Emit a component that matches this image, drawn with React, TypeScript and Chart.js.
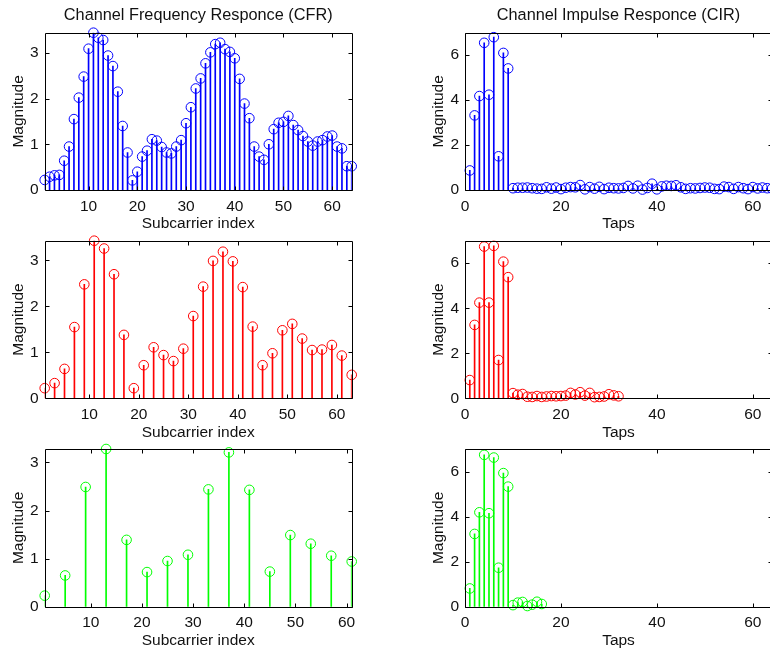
import React, { useEffect, useRef } from 'react';
import { Chart, registerables } from 'chart.js';

Chart.register(...registerables);

// ---------------- DATA ----------------
// Channel Frequency Response, 64 subcarriers (blue)
const cfr64Values = [
  0.22, 0.29, 0.32, 0.33, 0.64, 0.95, 1.55, 2.02, 2.48, 3.09, 3.44, 3.33, 3.28, 2.94, 2.71, 2.15,
  1.40, 0.82, 0.21, 0.40, 0.73, 0.86, 1.11, 1.08, 0.94, 0.82, 0.80, 0.95, 1.09, 1.46, 1.81, 2.22,
  2.44, 2.77, 3.01, 3.19, 3.22, 3.08, 3.02, 2.88, 2.43, 1.89, 1.57, 0.95, 0.73, 0.66, 1.00, 1.33,
  1.47, 1.49, 1.62, 1.42, 1.31, 1.18, 1.06, 0.97, 1.06, 1.09, 1.17, 1.19, 0.95, 0.91, 0.52, 0.52,
];
const cfr64Index = [
  1, 2, 3, 4, 5, 6, 7, 8, 9, 10, 11, 12, 13, 14, 15, 16, 17, 18, 19, 20, 21, 22, 23, 24, 25, 26, 27, 28, 29, 30, 31, 32,
  33, 34, 35, 36, 37, 38, 39, 40, 41, 42, 43, 44, 45, 46, 47, 48, 49, 50, 51, 52, 53, 54, 55, 56, 57, 58, 59, 60, 61, 62, 63, 64,
];

// 32 subcarriers (red)
const cfr32Index = [1, 3, 5, 7, 9, 11, 13, 15, 17, 19, 21, 23, 25, 27, 29, 31, 33, 35, 37, 39, 41, 43, 45, 47, 49, 51, 53, 55, 57, 59, 61, 63];
const cfr32Values = [
  0.22, 0.33, 0.64, 1.55, 2.48, 3.43, 3.26, 2.70, 1.38, 0.22, 0.72, 1.11, 0.94, 0.81, 1.08, 1.79,
  2.43, 2.99, 3.19, 2.98, 2.42, 1.56, 0.72, 0.98, 1.48, 1.62, 1.30, 1.05, 1.06, 1.16, 0.93, 0.51,
];

// 16 subcarriers (green)
const cfr16Index = [1, 5, 9, 13, 17, 21, 25, 29, 33, 37, 41, 45, 49, 53, 57, 61];
const cfr16Values = [0.23, 0.65, 2.49, 3.28, 1.39, 0.72, 0.95, 1.08, 2.44, 3.21, 2.43, 0.73, 1.49, 1.31, 1.06, 0.94];

// Channel Impulse Response
const cir64Values = [
  0.87, 3.32, 4.18, 6.55, 4.24, 6.80, 1.50, 6.10, 5.41, 0.08, 0.10, 0.10, 0.11, 0.08, 0.06, 0.05,
  0.12, 0.06, 0.11, 0.04, 0.10, 0.13, 0.12, 0.22, 0.03, 0.13, 0.06, 0.14, 0.04, 0.10, 0.08, 0.07,
  0.09, 0.18, 0.07, 0.19, 0.02, 0.09, 0.28, 0.03, 0.16, 0.19, 0.18, 0.21, 0.12, 0.05, 0.08, 0.07,
  0.09, 0.11, 0.10, 0.05, 0.04, 0.15, 0.13, 0.05, 0.13, 0.08, 0.04, 0.13, 0.07, 0.11, 0.08, 0.06,
];
const cir32Values = [
  0.81, 3.26, 4.25, 6.74, 4.25, 6.77, 1.70, 6.07, 5.38, 0.23, 0.16, 0.19, 0.07, 0.06, 0.10, 0.06,
  0.08, 0.10, 0.09, 0.10, 0.12, 0.24, 0.17, 0.27, 0.12, 0.24, 0.05, 0.06, 0.08, 0.18, 0.13, 0.09,
];
const cir16Values = [0.81, 3.23, 4.19, 6.74, 4.15, 6.62, 1.73, 5.93, 5.33, 0.07, 0.18, 0.21, 0.03, 0.09, 0.22, 0.12];

const cfrTicksX = [10, 20, 30, 40, 50, 60];
const cfrTicksY = [0, 1, 2, 3];
const cirTicksX = [0, 20, 40, 60];
const cirTicksY = [0, 2, 4, 6];

const titleCFR = 'Channel Frequency Responce (CFR)';
const titleCIR = 'Channel Impulse Responce (CIR)';
const labelCFR = 'Subcarrier index';
const labelCIR = 'Taps';
const labelY = 'Magnitude';

// ---------------- LAYOUT ----------------
const CW = 790;
const CH = 649;
const WY = 40;
const HX = 45;
const FONT = "'Liberation Sans', Arial, Helvetica, sans-serif";
const TXT = '#111';

const rows = [
  { t: 32.7, b: 190 },
  { t: 240.7, b: 398.3 },
  { t: 449, b: 606.7 },
];
const cols = [
  { l: 44.7, r: 351.7 },
  { l: 465, r: 772 },
];

const boxPlugin = {
  id: 'matlabBox',
  afterDatasetsDraw(chart: any) {
    const { ctx, chartArea: a, scales } = chart;
    const L = Math.round(a.left) + 0.5;
    const R = Math.round(a.right) + 0.5;
    const T = Math.round(a.top) + 0.5;
    const B = Math.round(a.bottom) + 0.5;
    const tl = 4;
    ctx.save();
    ctx.strokeStyle = '#000';
    ctx.lineWidth = 1;
    ctx.beginPath();
    ctx.rect(L, T, R - L, B - T);
    scales.x.ticks.forEach((t: any) => {
      const p = Math.round(scales.x.getPixelForValue(t.value)) + 0.5;
      ctx.moveTo(p, B);
      ctx.lineTo(p, B - tl);
      ctx.moveTo(p, T);
      ctx.lineTo(p, T + tl);
    });
    scales.y.ticks.forEach((t: any) => {
      const p = Math.round(scales.y.getPixelForValue(t.value)) + 0.5;
      ctx.moveTo(L, p);
      ctx.lineTo(L + tl, p);
      ctx.moveTo(R, p);
      ctx.lineTo(R - tl, p);
    });
    ctx.stroke();
    ctx.restore();
  },
};

type Panel = {
  row: number;
  col: number;
  xs: number[];
  ys: number[];
  color: string;
  xMin: number;
  xMax: number;
  yMax: number;
  xTicks: number[];
  yTicks: number[];
  xLabel: string;
  title?: string;
};

const panels: Panel[] = [
  { row: 0, col: 0, xs: cfr64Index, ys: cfr64Values, color: '#0000ff', xMin: 1, xMax: 64, yMax: Math.max(...cfr64Values), xTicks: cfrTicksX, yTicks: cfrTicksY, xLabel: labelCFR, title: titleCFR },
  { row: 0, col: 1, xs: cfr64Index, ys: cir64Values, color: '#0000ff', xMin: 0, xMax: 64, yMax: 7, xTicks: cirTicksX, yTicks: cirTicksY, xLabel: labelCIR, title: titleCIR },
  { row: 1, col: 0, xs: cfr32Index, ys: cfr32Values, color: '#ff0000', xMin: 1, xMax: 63, yMax: Math.max(...cfr32Values), xTicks: cfrTicksX, yTicks: cfrTicksY, xLabel: labelCFR },
  { row: 1, col: 1, xs: cfr64Index, ys: cir32Values, color: '#ff0000', xMin: 0, xMax: 64, yMax: 7, xTicks: cirTicksX, yTicks: cirTicksY, xLabel: labelCIR },
  { row: 2, col: 0, xs: cfr16Index, ys: cfr16Values, color: '#00ff00', xMin: 1, xMax: 61, yMax: Math.max(...cfr16Values), xTicks: cfrTicksX, yTicks: cfrTicksY, xLabel: labelCFR },
  { row: 2, col: 1, xs: cfr64Index, ys: cir16Values, color: '#00ff00', xMin: 0, xMax: 64, yMax: 7, xTicks: cirTicksX, yTicks: cirTicksY, xLabel: labelCIR },
];

function makeConfig(p: Panel): any {
  const { t, b } = rows[p.row];
  const { l, r } = cols[p.col];
  const data = p.ys.map((v, i) => ({ x: p.xs[i], y: v }));
  const tickFont = { family: FONT, size: 15.5 };
  const labelFont = { family: FONT, size: 15.5 };
  return {
    type: 'scatter',
    data: {
      datasets: [
        {
          type: 'scatter',
          data,
          borderColor: p.color,
          backgroundColor: 'rgba(0,0,0,0)',
          pointRadius: 4.8,
          pointHoverRadius: 4.8,
          pointBorderWidth: 1,
          pointHoverBorderWidth: 1,
          clip: false,
          order: 1,
        },
        {
          type: 'bar',
          data,
          backgroundColor: p.color,
          borderWidth: 0,
          barThickness: 1,
          order: 2,
        },
      ],
    },
    options: {
      responsive: false,
      animation: false,
      devicePixelRatio: 1,
      events: [],
      layout: {
        padding: { left: l - WY, top: p.title ? 0 : t, right: CW - r, bottom: CH - b - HX },
      },
      plugins: {
        legend: { display: false },
        tooltip: { enabled: false },
        title: p.title
          ? {
              display: true,
              text: p.title,
              fullSize: false,
              color: TXT,
              font: { family: FONT, size: 16.3, weight: 'normal' },
              padding: { top: 5.5, bottom: t - 5.5 - 16.3 * 1.2 },
            }
          : { display: false },
      },
      scales: {
        x: {
          type: 'linear',
          min: p.xMin,
          max: p.xMax,
          offset: false,
          grid: { display: false, drawTicks: false },
          border: { display: false },
          ticks: { font: tickFont, color: TXT, padding: 7, maxRotation: 0, autoSkip: false },
          afterBuildTicks: (s: any) => {
            s.ticks = p.xTicks.map((v) => ({ value: v }));
          },
          afterFit: (s: any) => {
            s.height = HX;
          },
          title: { display: true, text: p.xLabel, font: labelFont, color: TXT, padding: { top: 0, bottom: 1.7 } },
        },
        y: {
          type: 'linear',
          min: 0,
          max: p.yMax,
          grid: { display: false, drawTicks: false },
          border: { display: false },
          ticks: { font: tickFont, color: TXT, padding: 6, autoSkip: false },
          afterBuildTicks: (s: any) => {
            s.ticks = p.yTicks.map((v) => ({ value: v }));
          },
          afterFit: (s: any) => {
            s.width = WY;
          },
          title: { display: true, text: labelY, font: labelFont, color: TXT, padding: { top: 4.5, bottom: 0 } },
        },
      },
    },
    plugins: [boxPlugin],
  };
}

function PanelChart({ panel }: { panel: Panel }) {
  const ref = useRef<HTMLCanvasElement | null>(null);
  useEffect(() => {
    if (!ref.current) return;
    const chart = new Chart(ref.current, makeConfig(panel));
    return () => chart.destroy();
  }, [panel]);
  return (
    <canvas
      ref={ref}
      width={CW}
      height={CH}
      style={{ position: 'absolute', left: 0, top: 0, width: CW, height: CH }}
    />
  );
}

export default function App() {
  return (
    <div
      style={{
        position: 'fixed',
        left: 0,
        top: 0,
        width: 770,
        height: 649,
        overflow: 'hidden',
        background: '#fff',
      }}
    >
      {panels.map((p, i) => (
        <PanelChart key={i} panel={p} />
      ))}
    </div>
  );
}
